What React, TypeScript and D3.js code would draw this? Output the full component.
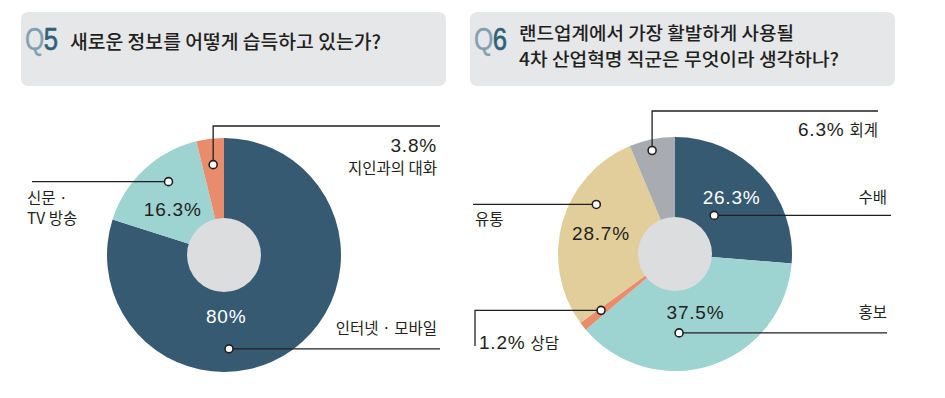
import React from 'react';
import * as d3 from 'd3';

// Q5 data
const q5Labels = ['인터넷 · 모바일', '신문 · TV 방송', '지인과의 대화'];
const q5Values = [80, 16.3, 3.8];
const q5Text = ['80%', '16.3%', '3.8%'];

// Q6 data
const q6Labels = ['수배', '홍보', '상담', '유통', '회계'];
const q6Values = [26.3, 37.5, 1.2, 28.7, 6.3];
const q6Text = ['26.3%', '37.5%', '1.2%', '28.7%', '6.3%'];

const W = 945;
const H = 398;
const R = 117;
const R_IN = 37;
const FONT = "'Liberation Sans', 'Noto Sans CJK KR', sans-serif";
const KFONT = "'Noto Sans CJK KR', sans-serif";
const INK = '#231f20';

const q5Colors = ['#375a73', '#9dd3d1', '#e88c6b'];
const q6Colors = ['#375a73', '#9dd3d1', '#e88c6b', '#e2ce9b', '#a8abb0'];

const arc = d3.arc<any>().innerRadius(0).outerRadius(R);
const pie = d3.pie<number>().sort(null).value((d) => d);

// point on a slice: fraction of its angle, at given radius
function polar(start, end, f, r) {
  const a = start + (end - start) * f;
  return [Math.sin(a) * r, -Math.cos(a) * r];
}
function at(deg, r) {
  const a = (deg * Math.PI) / 180;
  return [Math.sin(a) * r, -Math.cos(a) * r];
}

function Dot({ x, y }) {
  return <circle cx={x} cy={y} r={4} fill="#fff" stroke={INK} strokeWidth={1.6} />;
}

function Header({ x, num, lines, widths, size }) {
  return (
    <g>
      <rect x={x} y={12} width={425} height={74} rx={7} fill="#e6e7e9" />
      <g transform={`translate(${x + 4},50) scale(0.8,1)`}>
        <text x={0} y={0} fontFamily={FONT} fontSize={31} fill="#80a0b1" stroke="#80a0b1" strokeWidth={0.3}>Q</text>
        <text x={23.5} y={0} fontFamily={FONT} fontSize={32} fill="#2f6176" stroke="#2f6176" strokeWidth={0.7}>{num}</text>
      </g>
      {lines.map((l, i) => (
        <text
          key={i}
          x={x + 49}
          y={lines.length === 1 ? 49 : 40 + i * 26}
          fontFamily={KFONT}
          fontWeight={500}
          fontSize={size}
          fill={INK}
          textLength={widths[i]}
          lengthAdjust="spacingAndGlyphs"
        >
          {l}
        </text>
      ))}
    </g>
  );
}

export default function App() {
  const c5 = [224, 255];
  const c6 = [675, 254];
  const a5 = pie(q5Values);
  const a6 = pie(q6Values);

  // Q5 dots
  const d5 = [
    polar(a5[0].startAngle, a5[0].endAngle, 0.615, 94),
    polar(a5[1].startAngle, a5[1].endAngle, 0.6, 92),
    polar(a5[2].startAngle, a5[2].endAngle, 0.5, 91),
  ].map(([x, y]) => [x + c5[0], y + c5[1]]);

  // Q6 dots
  const d6 = [
    polar(a6[0].startAngle, a6[0].endAngle, 0.48, 55),
    polar(a6[1].startAngle, a6[1].endAngle, 0.61, 79),
    polar(a6[2].startAngle, a6[2].endAngle, 0.7, 93),
    polar(a6[3].startAngle, a6[3].endAngle, 0.66, 93),
    polar(a6[4].startAngle, a6[4].endAngle, 0.45, 106),
  ].map(([x, y]) => [x + c6[0], y + c6[1]]);

  const p5 = [at(178, 61), at(312, 69)].map(([x, y]) => [x + c5[0], y + c5[1]]);
  const p6 = [at(45, 80), at(160.7, 62), null, at(286, 77)].map((p) => (p ? [p[0] + c6[0], p[1] + c6[1]] : null));

  const line = d3.line();
  const lead = (pts) => (
    <path d={line(pts)} fill="none" stroke={INK} strokeWidth={1.3} />
  );
  const pct = (x, y, t, fill, anchor = 'middle') => (
    <text x={x} y={y} dy="0.36em" textAnchor={anchor} fontFamily={FONT} fontSize={19} letterSpacing={0.8} fill={fill}>
      {t}
    </text>
  );
  const lbl = (x, y, t, anchor = 'start') => (
    <text x={x} y={y} dy="0.36em" textAnchor={anchor} fontFamily={KFONT} fontSize={15.5} fill={INK}>
      {t}
    </text>
  );

  return (
    <svg width={W} height={H} style={{ position: 'absolute', left: 0, top: 0, background: '#fff' }}>
      <Header x={21} num="5" lines={['새로운 정보를 어떻게 습득하고 있는가?']} widths={[311]} size={19} />
      <Header
        x={470}
        num="6"
        lines={['랜드업계에서 가장 활발하게 사용될', '4차 산업혁명 직군은 무엇이라 생각하나?']}
        widths={[275, 320]}
        size={18}
      />

      {/* Q5 pie */}
      <g transform={`translate(${c5[0]},${c5[1]})`}>
        {a5.map((d, i) => (
          <path key={i} d={arc(d)} fill={q5Colors[i]} />
        ))}
        <circle r={R_IN} fill="#dcdddf" />
      </g>
      {lead([d5[2], [d5[2][0], 126], [440, 126]])}
      {lead([d5[1], [32, d5[1][1]]])}
      {lead([d5[0], [440, d5[0][1]]])}
      {d5.map(([x, y], i) => (
        <Dot key={i} x={x} y={y} />
      ))}
      {pct(p5[0][0], p5[0][1], q5Text[0], '#fff')}
      {pct(p5[1][0], p5[1][1], q5Text[1], INK)}
      {pct(437, 145, q5Text[2], INK, 'end')}
      {lbl(437, 168, q5Labels[2], 'end')}
      {lbl(27, 198, '신문 ·')}
      {lbl(27, 218, 'TV 방송')}
      {lbl(437, 328, q5Labels[0], 'end')}

      {/* Q6 pie */}
      <g transform={`translate(${c6[0]},${c6[1]})`}>
        {a6.map((d, i) => (
          <path key={i} d={arc(d)} fill={q6Colors[i]} />
        ))}
        <circle r={R_IN} fill="#dcdddf" />
      </g>
      {lead([d6[4], [d6[4][0], 111], [878, 111]])}
      {lead([d6[0], [891, d6[0][1]]])}
      {lead([d6[1], [887, d6[1][1]]])}
      {lead([d6[3], [473, d6[3][1]]])}
      {lead([d6[2], [475, d6[2][1]], [475, 346]])}
      {d6.map(([x, y], i) => (
        <Dot key={i} x={x} y={y} />
      ))}
      {pct(p6[0][0], p6[0][1], q6Text[0], '#fff')}
      {pct(p6[1][0], p6[1][1], q6Text[1], INK)}
      {pct(p6[3][0], p6[3][1], q6Text[3], INK)}
      <text x={878} y={136} textAnchor="end" fill={INK}>
        <tspan fontFamily={FONT} fontSize={19} letterSpacing={0.8}>{q6Text[4]}</tspan>
        <tspan fontFamily={KFONT} fontSize={15.5} dx={5}>{q6Labels[4]}</tspan>
      </text>
      {lbl(887, 197, q6Labels[0], 'end')}
      {lbl(887, 312, q6Labels[1], 'end')}
      {lbl(475, 219, q6Labels[3])}
      <text x={479} y={349} fill={INK}>
        <tspan fontFamily={FONT} fontSize={19} letterSpacing={0.8}>{q6Text[2]}</tspan>
        <tspan fontFamily={KFONT} fontSize={15.5} dx={5}>{q6Labels[2]}</tspan>
      </text>
    </svg>
  );
}
